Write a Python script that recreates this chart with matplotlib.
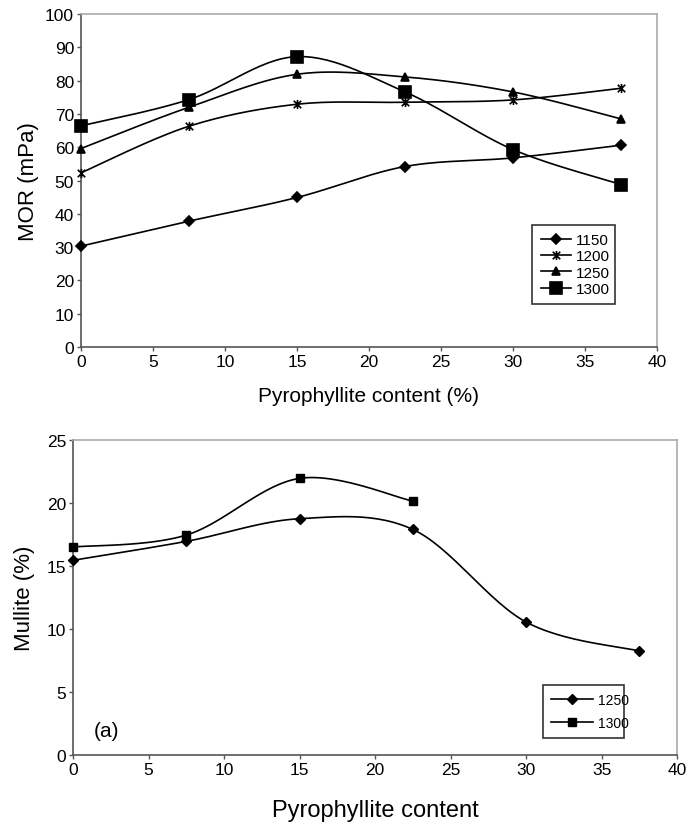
import numpy as np
import matplotlib.pyplot as plt
from matplotlib.path import Path

plt.rcParams['font.family'] = ['Liberation Sans', 'DejaVu Sans']

# Pyrophyllite content (%)
content = [0, 7.5, 15, 22.5, 30, 37.5]

# Modulus of rupture per firing temperature
mor_1150 = [30.3, 37.8, 44.9, 54.2, 56.8, 60.6]
mor_1200 = [52.3, 66.3, 72.9, 73.5, 74.2, 77.7]
mor_1250 = [59.6, 72.0, 81.9, 81.1, 76.6, 68.5]
mor_1300 = [66.4, 74.3, 87.2, 76.6, 59.3, 48.8]

# Mullite content
mul_content_1250 = [0, 7.5, 15, 22.5, 30, 37.5]
mul_1250 = [15.45, 16.95, 18.75, 17.9, 10.55, 8.25]
mul_content_1300 = [0, 7.5, 15, 22.5]
mul_1300 = [16.5, 17.45, 21.95, 20.15]


def smooth(x, y, n=30):
    # spreadsheet-style smoothed line: cubic bezier through the points
    x = np.asarray(x, float)
    y = np.asarray(y, float)
    px = np.concatenate([[x[0]], x, [x[-1]]])
    py = np.concatenate([[y[0]], y, [y[-1]]])
    t = np.linspace(0, 1, n)[:, None]
    xs, ys = [], []
    for i in range(1, len(px) - 2):
        p0 = np.array([px[i], py[i]])
        p3 = np.array([px[i + 1], py[i + 1]])
        p1 = p0 + (np.array([px[i + 1], py[i + 1]]) - np.array([px[i - 1], py[i - 1]])) / 6
        p2 = p3 - (np.array([px[i + 2], py[i + 2]]) - np.array([px[i], py[i]])) / 6
        seg = ((1 - t) ** 3) * p0 + 3 * ((1 - t) ** 2) * t * p1 + 3 * (1 - t) * t ** 2 * p2 + t ** 3 * p3
        xs.append(seg[:, 0])
        ys.append(seg[:, 1])
    return np.concatenate(xs), np.concatenate(ys)


# asterisk marker: X plus vertical bar
star = Path([(-1, -1), (1, 1), (-1, 1), (1, -1), (0, -1.2), (0, 1.2)],
            [Path.MOVETO, Path.LINETO, Path.MOVETO, Path.LINETO, Path.MOVETO, Path.LINETO])


def style_axes(ax, size):
    for s in ['left', 'bottom']:
        ax.spines[s].set_color('#555555')
        ax.spines[s].set_linewidth(1.2)
    for s in ['top', 'right']:
        ax.spines[s].set_color('#aaaaaa')
        ax.spines[s].set_linewidth(1.2)
    ax.tick_params(direction='out', length=3, width=1, color='#555555', labelsize=size, pad=2)


fig = plt.figure(figsize=(6.88, 8.29), dpi=100)

# MOR vs pyrophyllite
ax1 = fig.add_axes([0.1177, 0.5802, 0.8372, 0.4017])
series = [(mor_1150, 'D', 5, '1150'), (mor_1200, star, 6.5, '1200'),
          (mor_1250, '^', 6, '1250'), (mor_1300, 's', 8, '1300')]
for vals, m, ms, lab in series:
    sx, sy = smooth(content, vals)
    ax1.plot(sx, sy, color='black', lw=1.2)
    ax1.plot(content, vals, linestyle='none', marker=m, ms=ms, color='black',
             mec='black', mew=1.2, clip_on=False, zorder=3)
    ax1.plot([], [], color='black', lw=1.2, marker=m, ms=ms, mew=1.2, label=lab)
ax1.set_xlim(0, 40)
ax1.set_ylim(0, 100)
ax1.set_xticks(np.arange(0, 41, 5))
ax1.set_yticks(np.arange(0, 101, 10))
style_axes(ax1, 12.5)
ax1.set_xlabel('Pyrophyllite content (%)', fontsize=15, labelpad=12)
ax1.set_ylabel('MOR (mPa)', fontsize=16, labelpad=4)
leg1 = ax1.legend(loc='lower left', bbox_to_anchor=(0.77, 0.105, 0.17, 0.235), mode='expand',
                  fontsize=11, frameon=True, fancybox=False, edgecolor='black',
                  handlelength=2.0, handletextpad=0.3, borderpad=0.55, labelspacing=0.15)
leg1.get_frame().set_linewidth(1.2)

# Mullite vs pyrophyllite
ax2 = fig.add_axes([0.1061, 0.0881, 0.878, 0.380])
sx, sy = smooth(mul_content_1250, mul_1250)
ax2.plot(sx, sy, color='black', lw=1.2)
ax2.plot(mul_content_1250, mul_1250, linestyle='none', marker='D', ms=5, color='black',
         clip_on=False, zorder=3)
sx, sy = smooth(mul_content_1300, mul_1300)
ax2.plot(sx, sy, color='black', lw=1.2)
ax2.plot(mul_content_1300, mul_1300, linestyle='none', marker='s', ms=5.5, color='black',
         clip_on=False, zorder=3)
ax2.plot([], [], color='black', lw=1.2, marker='D', ms=5, label='1250')
ax2.plot([], [], color='black', lw=1.2, marker='s', ms=5.5, label='1300')
ax2.set_xlim(0, 40)
ax2.set_ylim(0, 25)
ax2.set_xticks(np.arange(0, 41, 5))
ax2.set_yticks(np.arange(0, 26, 5))
style_axes(ax2, 12.5)
ax2.set_xlabel('Pyrophyllite content', fontsize=17, labelpad=16)
ax2.set_ylabel('Mullite (%)', fontsize=16, labelpad=8)
ax2.text(1.4, 1.5, '(a)', fontsize=15, va='baseline')
leg2 = ax2.legend(loc='lower left', bbox_to_anchor=(0.767, 0.032, 0.156, 0.16), mode='expand',
                  fontsize=10, frameon=True, fancybox=False, edgecolor='black',
                  handlelength=3.0, handletextpad=0.4, borderpad=0.55, labelspacing=0.7)
leg2.get_frame().set_linewidth(1.2)

fig.savefig('out.png', dpi=100)
